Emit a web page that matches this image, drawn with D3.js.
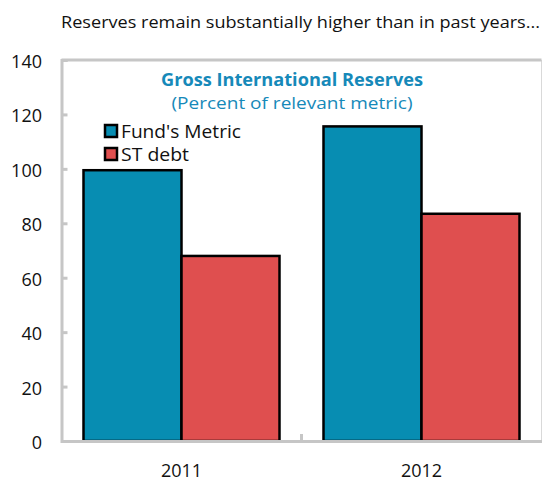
<!DOCTYPE html>
<html>
<head>
<meta charset="utf-8">
<script src="https://cdn.jsdelivr.net/npm/d3@7"></script>
<style>
    body { margin: 0; background: #fff; }
    text { font-family: 'Open Sans', sans-serif; }
</style>
</head>
<body>
<div id="chart"></div>
<script>
const years = ['2011', '2012'];
const seriesNames = ["Fund's Metric", 'ST debt'];
const fundsMetric = [99.5, 115.6];
const stDebt = [68, 83.5];
const yTicks = [0, 20, 40, 60, 80, 100, 120, 140];

const colors = ['#078db2', '#df4f4f'];

const width = 544, height = 482;
const margin = { top: 60, right: 2.5, bottom: 41, left: 61.5 };

const svg = d3.select('#chart').append('svg')
    .attr('width', width)
    .attr('height', height);

const x0 = d3.scaleBand()
    .domain(years)
    .range([margin.left, width - margin.right]);

const x1 = d3.scaleBand()
    .domain(seriesNames)
    .range([22, x0.bandwidth() - 22]);

const y = d3.scaleLinear()
    .domain([0, 140])
    .range([height - margin.bottom, margin.top]);

// headline above the chart
svg.append('text')
    .attr('x', 61)
    .attr('y', 28)
    .attr('textLength', 479)
    .attr('lengthAdjust', 'spacingAndGlyphs')
    .style('font-size', '17px')
    .attr('fill', '#111')
    .text('Reserves remain substantially higher than in past years...');

// frame: right + top borders
svg.append('line')
    .attr('x1', width - margin.right).attr('x2', width - margin.right)
    .attr('y1', y(140)).attr('y2', y(0))
    .attr('stroke', '#d9d9d9').attr('stroke-width', 1);
svg.append('line')
    .attr('x1', margin.left).attr('x2', width - margin.right)
    .attr('y1', y(140)).attr('y2', y(140))
    .attr('stroke', '#c6c6c6').attr('stroke-width', 3);

const data = years.map((yr, i) => ({ year: yr, values: [fundsMetric[i], stDebt[i]] }));

const groups = svg.selectAll('.group')
    .data(data)
    .enter()
    .append('g')
    .attr('class', 'group')
    .attr('transform', d => `translate(${x0(d.year)},0)`);

groups.selectAll('rect')
    .data(d => d.values.map((v, i) => ({ key: seriesNames[i], value: v, i: i })))
    .enter()
    .append('rect')
    .attr('x', d => x1(d.key))
    .attr('width', x1.bandwidth())
    .attr('y', d => y(d.value))
    .attr('height', d => y(0) - y(d.value))
    .attr('fill', d => colors[d.i])
    .attr('stroke', '#000')
    .attr('stroke-width', 2.5);

// y axis
const yAxis = svg.append('g')
    .attr('transform', `translate(${margin.left},0)`)
    .call(d3.axisRight(y).tickValues(yTicks).tickSize(6).tickFormat(''));
yAxis.select('.domain').attr('stroke', '#c6c6c6').attr('stroke-width', 3);
yAxis.selectAll('.tick line').attr('stroke', '#c6c6c6').attr('stroke-width', 3);

svg.selectAll('.ylabel')
    .data(yTicks)
    .enter()
    .append('text')
    .attr('class', 'ylabel')
    .attr('x', 42)
    .attr('y', d => y(d) + 8)
    .attr('text-anchor', 'end')
    .style('font-size', '18px')
    .attr('fill', '#111')
    .text(d => d);

// x axis
const xAxis = svg.append('g')
    .attr('transform', `translate(0,${y(0)})`)
    .call(d3.axisBottom(x0).tickSize(0).tickFormat(''));
xAxis.select('.domain').attr('stroke', '#c6c6c6').attr('stroke-width', 3);

// tick between the categories
svg.append('line')
    .attr('x1', x0('2012')).attr('x2', x0('2012'))
    .attr('y1', y(0)).attr('y2', y(0) - 7)
    .attr('stroke', '#c6c6c6').attr('stroke-width', 3);

svg.selectAll('.xlabel')
    .data(years)
    .enter()
    .append('text')
    .attr('class', 'xlabel')
    .attr('x', d => x0(d) + x0.bandwidth() / 2)
    .attr('y', 477)
    .attr('text-anchor', 'middle')
    .style('font-size', '18px')
    .attr('fill', '#111')
    .text(d => d);

// chart title
svg.append('text')
    .attr('x', 292)
    .attr('y', 86)
    .attr('text-anchor', 'middle')
    .attr('textLength', 262)
    .attr('lengthAdjust', 'spacingAndGlyphs')
    .style('font-size', '18px')
    .style('font-weight', 'bold')
    .attr('fill', '#1689b9')
    .text('Gross International Reserves');

svg.append('text')
    .attr('x', 292)
    .attr('y', 109)
    .attr('text-anchor', 'middle')
    .attr('textLength', 241)
    .attr('lengthAdjust', 'spacingAndGlyphs')
    .style('font-size', '17px')
    .attr('fill', '#1689b9')
    .text('(Percent  of relevant metric)');

// legend
const legend = svg.selectAll('.legend')
    .data(seriesNames)
    .enter()
    .append('g')
    .attr('class', 'legend')
    .attr('transform', (d, i) => `translate(105,${125 + i * 23})`);

legend.append('rect')
    .attr('width', 12)
    .attr('height', 12)
    .attr('fill', (d, i) => colors[i])
    .attr('stroke', '#000')
    .attr('stroke-width', 2.5);

legend.append('text')
    .attr('x', 16)
    .attr('y', 13)
    .attr('textLength', (d, i) => i === 0 ? 120 : 68)
    .attr('lengthAdjust', 'spacingAndGlyphs')
    .style('font-size', '18px')
    .attr('fill', '#111')
    .text(d => d);
</script>
</body>
</html>
